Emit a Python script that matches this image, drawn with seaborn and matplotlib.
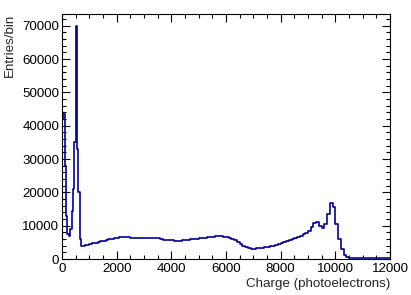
import numpy as np
import pandas as pd
import matplotlib
matplotlib.use("Agg")
import matplotlib.pyplot as plt
from matplotlib.ticker import MultipleLocator
import seaborn as sns

# low-charge region, 50 pe bins (0 - 1000)
low_counts = [42000, 43500, 28000, 13000, 7500, 6800, 9000, 14500, 21000, 35000,
              70000, 33000, 20000, 6000, 3800, 3900, 4000, 4100, 4200, 4300]
# rest of the spectrum, 100 pe bins (1000 - 12000), one row per 1000 pe
high_counts = [
    4500, 4700, 4900, 5100, 5300, 5500, 5700, 5900, 6100, 6300,   # 1000
    6400, 6500, 6500, 6500, 6500, 6400, 6400, 6300, 6400, 6400,   # 2000
    6300, 6300, 6400, 6300, 6300, 6200, 6000, 5800, 5700, 5600,   # 3000
    5600, 5500, 5500, 5500, 5600, 5700, 5800, 5900, 6000, 6100,   # 4000
    6200, 6300, 6400, 6500, 6600, 6700, 6800, 6800, 6800, 6700,   # 5000
    6600, 6400, 6100, 5600, 5000, 4500, 4000, 3600, 3300, 3100,   # 6000
    3100, 3200, 3300, 3400, 3500, 3600, 3800, 4000, 4200, 4400,   # 7000
    4700, 5000, 5300, 5600, 5900, 6200, 6600, 7000, 7400, 7900,   # 8000
    8500, 9500, 10700, 11000, 10000, 9200, 10500, 13500, 16800, 15500,  # 9000
    10500, 6000, 3000, 1300, 600, 300, 200, 200, 200, 200,        # 10000
    200, 200, 200, 200, 200, 200, 200, 200, 200, 200,             # 11000
]
low_edges = np.arange(0, 1000, 50)
high_edges = np.arange(1000, 12001, 100)
edges = np.concatenate([low_edges, high_edges])

counts = low_counts + high_counts
centers = (edges[:-1] + edges[1:]) / 2
df = pd.DataFrame({"charge": centers, "entries": counts})

sns.set_style("ticks")
plt.rcParams['font.family'] = ['Liberation Sans', 'DejaVu Sans']

fig = plt.figure(figsize=(4.11, 2.95), dpi=100)
ax = fig.add_axes([62/411, 1-259/295, 328/411, 245/295])

sns.histplot(data=df, x="charge", weights="entries", bins=edges.tolist(), element="step",
             fill=False, color="#000099", linewidth=1.2, ax=ax)

ax.set_xlim(0, 12000)
ax.set_ylim(0, 73500)
ax.xaxis.set_major_locator(MultipleLocator(2000))
ax.xaxis.set_minor_locator(MultipleLocator(500))
ax.yaxis.set_major_locator(MultipleLocator(10000))
ax.yaxis.set_minor_locator(MultipleLocator(2000))
ax.tick_params(which="both", direction="in", top=True, right=True, labelsize=9.6,
               colors="black", width=0.8)
ax.tick_params(which="major", length=5.5)
ax.tick_params(which="minor", length=2.8)
ax.tick_params(axis="x", pad=3)
ax.tick_params(axis="y", pad=2)
for s in ax.spines.values():
    s.set_visible(True)
    s.set_linewidth(0.8)
    s.set_color("black")
ax.set_xlabel("")
ax.set_ylabel("")

fig.text(10/411, 1-14/295, "Entries/bin", rotation=90, ha="center", va="top", fontsize=9.6)
fig.text(390/411, 1-284/295, "Charge (photoelectrons)", ha="right", va="center", fontsize=9.6)

fig.savefig("out.png", dpi=100)
